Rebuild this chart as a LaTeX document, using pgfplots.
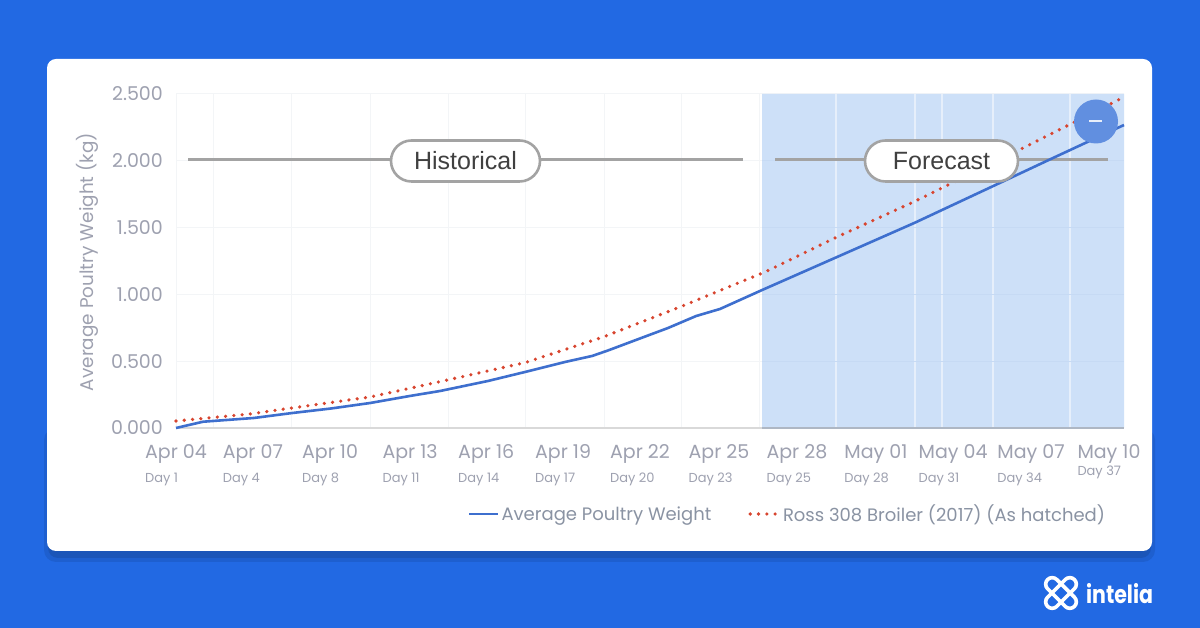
\documentclass[border=0pt]{standalone}
\usepackage{pgfplots}
\pgfplotsset{compat=1.18}
\usepackage{fontspec}
\setmainfont{Poppins}
\newfontfamily\pillfont{Liberation Sans}
\usetikzlibrary{shapes.misc}
\definecolor{bg}{HTML}{2269E3}
\definecolor{shadowc}{HTML}{1B55B8}
\definecolor{shadowd}{HTML}{1E5FCF}
\definecolor{ticktxt}{HTML}{9EA1B0}
\definecolor{legtxt}{HTML}{8A93A3}
\definecolor{gridc}{HTML}{F3F5F7}
\definecolor{bandc}{HTML}{CDE0F8}
\definecolor{bandgrid}{HTML}{E6EFFB}
\definecolor{bandh}{HTML}{C6DAF4}
\definecolor{blueline}{HTML}{3E6FCE}
\definecolor{redline}{HTML}{D8452F}
\definecolor{pillc}{HTML}{A3A3A3}
\definecolor{circ}{HTML}{618FE0}
\begin{document}
\begin{tikzpicture}[x=1pt,y=1pt]
\path[use as bounding box] (0,0) rectangle (1200,628);
\fill[bg] (0,0) rectangle (1200,628);
\fill[shadowd,rounded corners=12pt] (44,66) rectangle (1155,200);
\fill[shadowc,rounded corners=10pt] (48,70) rectangle (1151,200);
\fill[white,rounded corners=9pt] (47,77) rectangle (1152,569);
\begin{axis}[
  at={(176pt,200pt)},anchor=south west,
  width=948pt,height=334pt,scale only axis,
  xmin=0,xmax=36,ymin=0,ymax=2.5,
  axis x line=bottom,axis y line=left,
  axis line style={-},
  x axis line style={draw=none},
  y axis line style={gridc,line width=1pt},
  major tick length=0pt,minor tick length=0pt,
  ytick={0,0.5,1,1.5,2,2.5},
  ymajorgrids,
  major grid style={gridc,line width=1pt},
  minor xtick={1.44,4.40,7.37,10.33,13.29,16.26,19.18,22.14},
  xminorgrids,
  minor grid style={gridc,line width=1pt},
  xtick={0,2.92,5.85,8.89,11.78,14.70,17.62,20.62,23.58,26.58,29.51,32.47,35.43},
  xticklabels={Apr 04\\[2pt]{\fontsize{13}{14}\selectfont Day 1},
    Apr 07\\[2pt]{\fontsize{13}{14}\selectfont Day 4},
    Apr 10\\[2pt]{\fontsize{13}{14}\selectfont Day 8},
    Apr 13\\[2pt]{\fontsize{13}{14}\selectfont Day 11},
    Apr 16\\[2pt]{\fontsize{13}{14}\selectfont Day 14},
    Apr 19\\[2pt]{\fontsize{13}{14}\selectfont Day 17},
    Apr 22\\[2pt]{\fontsize{13}{14}\selectfont Day 20},
    Apr 25\\[2pt]{\fontsize{13}{14}\selectfont Day 23},
    Apr 28\\[2pt]{\fontsize{13}{14}\selectfont Day 25},
    May 01\\[2pt]{\fontsize{13}{14}\selectfont Day 28},
    May 04\\[2pt]{\fontsize{13}{14}\selectfont Day 31},
    May 07\\[2pt]{\fontsize{13}{14}\selectfont Day 34},
    May 10\\[-5pt]{\fontsize{13}{14}\selectfont Day 37}},
  xticklabel style={align=left,font=\fontsize{19}{22}\selectfont,text=ticktxt,inner sep=0pt,yshift=-16pt},
  yticklabel style={font=\fontsize{19}{22}\selectfont,text=ticktxt,inner sep=0pt,xshift=-13pt},
  /pgf/number format/.cd,fixed,fixed zerofill,precision=3,assume math mode=true,
  /pgfplots/.cd,
  ylabel={Average Poultry Weight (kg)},
  y label style={at={(axis description cs:-0.094,0.497)},anchor=center,font=\fontsize{18.4}{20}\selectfont,text=ticktxt},
  legend columns=2,
  legend image code/.code={\draw[#1] (0pt,0pt) -- (29pt,0pt);},
  legend style={draw=none,fill=none,at={(0.645,-0.2575)},anchor=center,
    font=\fontsize{18}{21}\selectfont,text=legtxt,inner sep=0pt,
    /tikz/every even column/.append style={column sep=35pt}},
  legend cell align=left,
  clip=false,
]
\addplot[forget plot,fill=bandc,draw=none] coordinates {(22.26,0)(36,0)(36,2.5)(22.26,2.5)} \closedcycle;
\addplot[forget plot,ycomb,bandgrid,line width=2pt,no markers] coordinates {(25.07,2.5)(28.07,2.5)(29.09,2.5)(31.03,2.5)(33.95,2.5)};
\addplot[forget plot,bandh,line width=0.8pt,no markers] coordinates {(22.26,0.5)(36,0.5)};
\addplot[forget plot,bandh,line width=0.8pt,no markers] coordinates {(22.26,1)(36,1)};
\addplot[forget plot,bandh,line width=0.8pt,no markers] coordinates {(22.26,1.5)(36,1.5)};
\addplot[forget plot,bandh,line width=0.8pt,no markers] coordinates {(22.26,2)(36,2)};
\addplot[forget plot,color=black!15,line width=2pt,no markers] coordinates {(0,0)(22.26,0)};
\addplot[forget plot,color=bandh!70!black!70,line width=2pt,no markers] coordinates {(22.26,0)(36,0)};
\addplot[forget plot,pillc,line width=3pt,no markers] coordinates {(0.456,2.006)(21.53,2.006)};
\addplot[forget plot,pillc,line width=3pt,no markers] coordinates {(22.75,2.006)(35.4,2.006)};
\addplot[blueline,line width=2.6pt,no markers,line join=round] coordinates {
(0,0)(1.03,0.047)(2.96,0.075)(4.41,0.112)(5.89,0.146)(7.37,0.187)(8.89,0.24)(10.03,0.277)
(11.85,0.352)(13.25,0.419)(14.77,0.494)(15.80,0.539)(16.40,0.580)(18.69,0.749)(19.75,0.838)
(20.66,0.891)(22.26,1.033)(23.70,1.158)(25.07,1.277)(28.03,1.534)(30.99,1.807)(33.38,2.028)(36,2.268)};
\addlegendentry{Average Poultry Weight}
\addplot[redline,line width=3.6pt,no markers,line cap=round,dash pattern=on 0pt off 8.3pt] coordinates {
(0,0.052)(2.81,0.105)(4.41,0.150)(7.37,0.232)(10.03,0.347)(13.25,0.489)(16.22,0.681)(19.14,0.906)
(22.37,1.168)(25.07,1.427)(28.03,1.694)(32.17,2.096)(34.07,2.285)(35.93,2.470)};
\addlegendentry{Ross 308 Broiler (2017) (As hatched)}
\end{axis}
% annotation pills
\node[draw=pillc,line width=2.6pt,fill=white,rounded rectangle,minimum width=149pt,minimum height=41pt,inner sep=0pt,font=\pillfont\fontsize{25}{28}\selectfont,text=black!75] at (465.5,467) {Historical};
\node[draw=pillc,line width=2.6pt,fill=white,rounded rectangle,minimum width=153pt,minimum height=41pt,inner sep=0pt,font=\pillfont\fontsize{25}{28}\selectfont,text=black!75] at (941.5,467) {Forecast};
\fill[circ] (1096,506.5) circle (22);
\draw[white!85!circ,line width=1.6pt] (1089,507) -- (1102,507);
% logo
\begin{scope}[shift={(1061,35)},white]
\draw[rotate=45,line width=3.6pt,rounded corners=6.5pt] (-19,-6.5) rectangle (19,6.5);
\draw[rotate=-45,line width=3.6pt,rounded corners=6.5pt] (-19,-6.5) rectangle (19,6.5);
\end{scope}
\node[anchor=west,inner sep=0pt,text=white,xscale=0.82,font=\bfseries\fontsize{25}{28}\selectfont] at (1086,34) {intelia};
\end{tikzpicture}
\end{document}
